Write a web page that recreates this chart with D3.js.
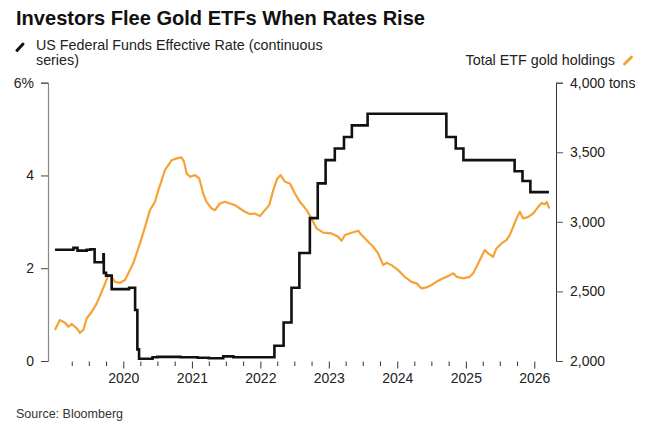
<!DOCTYPE html>
<html>
<head>
<meta charset="utf-8">
<script src="https://cdn.jsdelivr.net/npm/d3@7"></script>
<style>
  body { margin: 0; background: #fff; }
  text { font-family: "Liberation Sans", Arial, sans-serif; }
</style>
</head>
<body>
<svg id="chart" width="650" height="427"></svg>
<script>
// Fed funds effective rate, % (step changes)
var rateDates = ["2019-01-02","2019-04-10","2019-05-02","2019-06-20","2019-07-10","2019-08-01","2019-09-17","2019-09-19","2019-10-01","2019-10-31",
  "2020-02-01","2020-03-04","2020-03-16","2020-03-25","2020-06-05","2020-07-01","2020-11-01","2021-02-01","2021-04-01","2021-06-17","2021-08-10",
  "2022-03-17","2022-05-05","2022-06-16","2022-07-28","2022-09-22","2022-11-03","2022-12-15","2023-02-02","2023-03-23","2023-05-04","2023-07-27",
  "2024-09-19","2024-11-08","2024-12-19","2025-09-18","2025-10-30","2025-12-11","2026-03-20"];
var rateValues = [2.40,2.44,2.38,2.40,2.41,2.13,2.30,1.90,1.84,1.55,
  1.58,1.10,0.25,0.05,0.08,0.09,0.08,0.07,0.06,0.10,0.08,
  0.33,0.83,1.58,2.33,3.08,3.83,4.33,4.58,4.83,5.08,5.33,
  4.83,4.58,4.33,4.09,3.88,3.64,3.64];

// Total ETF gold holdings, tons
var etfDates = ["2019-01-01","2019-01-28","2019-02-24","2019-03-14","2019-04-01","2019-04-28","2019-05-15","2019-06-02","2019-06-20","2019-07-17",
  "2019-08-12","2019-09-08","2019-09-26","2019-10-13","2019-10-31","2019-11-18","2019-12-15","2020-01-10","2020-01-28","2020-02-23",
  "2020-03-12","2020-03-30","2020-04-26","2020-05-22","2020-06-18","2020-07-06","2020-07-24","2020-08-10","2020-08-28","2020-09-15",
  "2020-10-12","2020-11-07","2020-11-20","2020-12-04","2020-12-22","2021-01-17","2021-02-09","2021-03-02","2021-03-20","2021-04-16",
  "2021-05-04","2021-05-30","2021-06-26","2021-07-23","2021-08-18","2021-09-14","2021-10-11","2021-11-06","2021-12-03","2021-12-30",
  "2022-01-25","2022-02-17","2022-03-11","2022-04-01","2022-04-19","2022-05-12","2022-06-08","2022-07-04","2022-07-31","2022-09-05",
  "2022-10-01","2022-10-28","2022-12-02","2023-01-16","2023-02-20","2023-03-10","2023-03-28","2023-05-02","2023-06-07","2023-06-25",
  "2023-07-21","2023-08-26","2023-09-21","2023-10-18","2023-11-05","2023-12-02","2024-01-06","2024-02-10","2024-03-17","2024-04-13",
  "2024-05-10","2024-06-05","2024-07-02","2024-07-28","2024-09-02","2024-09-29","2024-10-26","2024-11-13","2024-12-18","2025-01-22",
  "2025-02-09","2025-02-27","2025-03-25","2025-04-12","2025-04-30","2025-05-26","2025-06-13","2025-07-10","2025-08-05","2025-08-23",
  "2025-09-10","2025-09-28","2025-10-16","2025-11-03","2025-11-30","2025-12-26","2026-01-22","2026-02-09","2026-02-27","2026-03-08","2026-03-22"];
var etfTons = [2223,2294,2275,2246,2266,2235,2203,2223,2307,2354,
  2414,2498,2558,2618,2605,2569,2562,2582,2630,2702,
  2773,2845,2964,3084,3144,3228,3300,3372,3408,3443,
  3456,3463,3431,3348,3324,3336,3312,3204,3144,3096,
  3084,3132,3144,3132,3120,3096,3072,3056,3060,3041,
  3084,3120,3228,3312,3336,3288,3276,3204,3144,3084,
  3024,2953,2922,2917,2893,2864,2905,2922,2936,2905,
  2869,2821,2773,2689,2706,2689,2653,2605,2569,2558,
  2522,2529,2546,2569,2594,2610,2630,2605,2594,2605,
  2630,2677,2749,2797,2773,2749,2809,2845,2869,2905,
  2964,3024,3072,3024,3036,3060,3108,3136,3127,3144,3096];

var rateTicks = [0, 2, 4, 6];
var tonTicks = [2000, 2500, 3000, 3500, 4000];
var yearLabels = ["2020","2021","2022","2023","2024","2025","2026"];

var parse = d3.timeParse("%Y-%m-%d");
var svg = d3.select('#chart');

var x = d3.scaleTime()
  .domain([parse("2020-01-01"), parse("2026-01-01")])
  .range([123.3, 534.3]);
var yL = d3.scaleLinear().domain([0, 6]).range([361, 82.7]);
var yR = d3.scaleLinear().domain([2000, 4000]).range([361, 82.7]);

/* Title and legend */
svg.append('text')
  .attr('x', 16).attr('y', 25)
  .attr('textLength', 409).attr('lengthAdjust', 'spacingAndGlyphs')
  .style('font-size', '21px').style('font-weight', 'bold').style('fill', '#111')
  .text('Investors Flee Gold ETFs When Rates Rise');

svg.append('line').attr('x1', 17).attr('y1', 50.5).attr('x2', 23).attr('y2', 44)
  .style('stroke', '#111').style('stroke-width', 3).style('stroke-linecap', 'round');
svg.append('text').attr('x', 36).attr('y', 49.5)
  .style('font-size', '14.3px').style('fill', '#222')
  .text('US Federal Funds Effective Rate (continuous');
svg.append('text').attr('x', 36).attr('y', 64.5)
  .style('font-size', '14.3px').style('fill', '#222')
  .text('series)');

svg.append('text').attr('x', 615).attr('y', 64.5)
  .style('font-size', '14.3px').style('fill', '#222').style('text-anchor', 'end')
  .text('Total ETF gold holdings');
svg.append('line').attr('x1', 624.5).attr('y1', 64).attr('x2', 631.5).attr('y2', 57)
  .style('stroke', '#f7a234').style('stroke-width', 3).style('stroke-linecap', 'round');

/* Left axis */
var leftAxis = svg.append('g').attr('transform', 'translate(48,0)')
  .call(d3.axisLeft(yL).tickValues(rateTicks).tickSize(7).tickPadding(7)
    .tickFormat(d => d === 6 ? '6%' : d));
leftAxis.select('.domain').style('stroke', '#888').style('stroke-width', 1.2);
leftAxis.selectAll('.tick line').style('stroke', '#444');
leftAxis.selectAll('text').style('font-size', '14px').style('fill', '#222').style('font-family', '"Liberation Sans", Arial, sans-serif');

/* Right axis */
var rightAxis = svg.append('g').attr('transform', 'translate(556,0)')
  .call(d3.axisRight(yR).tickValues(tonTicks).tickSize(7).tickPadding(7)
    .tickFormat(d => d === 4000 ? '4,000 tons' : d3.format(',')(d)));
rightAxis.select('.domain').style('stroke', '#333');
rightAxis.selectAll('.tick line').style('stroke', '#555');
rightAxis.selectAll('text').style('font-size', '14px').style('fill', '#222').style('font-family', '"Liberation Sans", Arial, sans-serif');

/* Bottom axis: quarterly ticks, labels on years */
var quarterTicks = d3.timeMonth.every(3).range(parse("2019-04-01"), parse("2026-01-02"));
var bottomAxis = svg.append('g').attr('transform', 'translate(0,361.5)')
  .call(d3.axisBottom(x).tickValues(quarterTicks).tickSize(7).tickPadding(4.5)
    .tickFormat(d => d.getMonth() === 0 ? yearLabels[d.getFullYear() - 2020] : ''));
bottomAxis.select('.domain').remove();
bottomAxis.selectAll('.tick line').style('stroke', '#333')
  .attr('y2', d => d.getMonth() === 0 ? 7 : 4.5);
bottomAxis.selectAll('text').style('font-size', '14px').style('fill', '#222').style('font-family', '"Liberation Sans", Arial, sans-serif');

/* Lines */
var etfLine = d3.line().x((d, i) => x(parse(etfDates[i]))).y(d => yR(d));
svg.append('path').datum(etfTons)
  .attr('d', etfLine)
  .style('fill', 'none').style('stroke', '#f7a234').style('stroke-width', 2.2).style('stroke-linejoin', 'round');

var rateLine = d3.line().curve(d3.curveStepAfter).x((d, i) => x(parse(rateDates[i]))).y(d => yL(d));
svg.append('path').datum(rateValues)
  .attr('d', rateLine)
  .style('fill', 'none').style('stroke', '#111').style('stroke-width', 2.6);

/* Source */
svg.append('text').attr('x', 16).attr('y', 418.3)
  .style('font-size', '12.5px').style('fill', '#333')
  .text('Source: Bloomberg');
</script>
</body>
</html>
